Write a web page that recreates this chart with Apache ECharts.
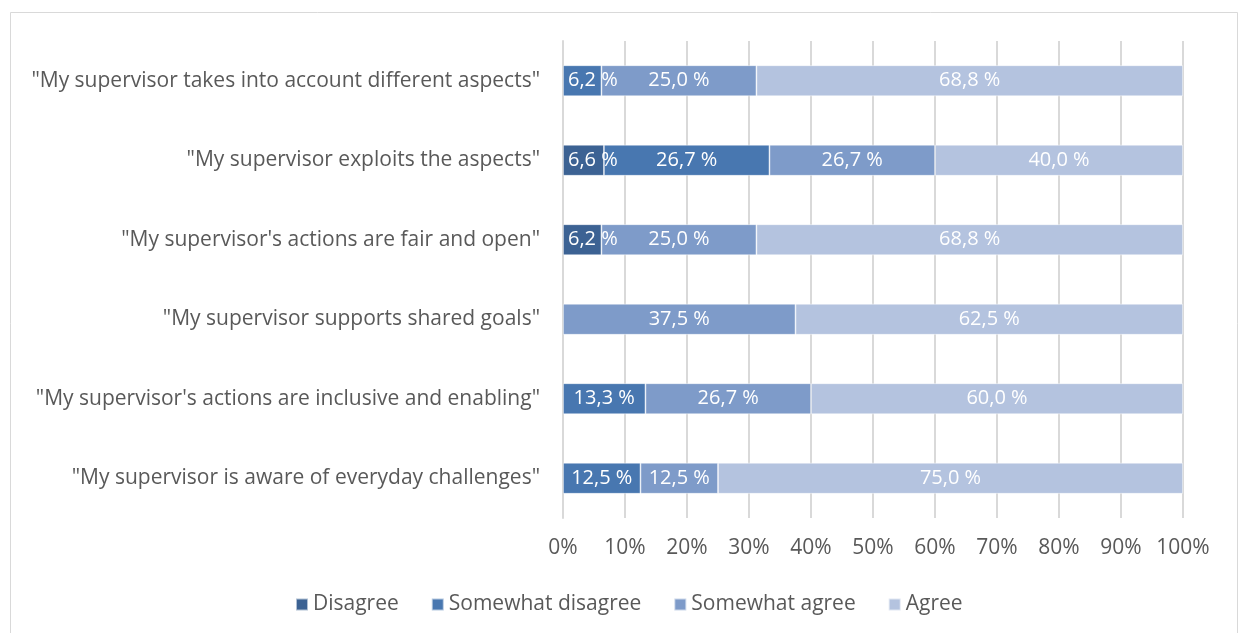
<!DOCTYPE html>
<html>
<head>
<meta charset="utf-8">
<script src="https://cdn.jsdelivr.net/npm/echarts@6/dist/echarts.min.js"></script>
<style>
  html, body { margin: 0; padding: 0; background: #fff; }
  #chart { width: 1239px; height: 633px; }
</style>
</head>
<body>
<div id="chart"></div>
<script>
// Survey statements, listed top to bottom
const categories = [
  '"My supervisor takes into account different aspects"',
  '"My supervisor exploits the aspects"',
  '"My supervisor\'s actions are fair and open"',
  '"My supervisor supports shared goals"',
  '"My supervisor\'s actions are inclusive and enabling"',
  '"My supervisor is aware of everyday challenges"'
];

// Share of answers per statement (%), null where nobody chose the option
const disagree         = [null, 6.6, 6.2, null, null, null];
const somewhatDisagree = [6.2, 26.7, null, null, 13.3, 12.5];
const somewhatAgree    = [25.0, 26.7, 25.0, 37.5, 26.7, 12.5];
const agree            = [68.8, 40.0, 68.8, 62.5, 60.0, 75.0];

const xTicks = [0, 10, 20, 30, 40, 50, 60, 70, 80, 90, 100];

const FONT = '"Open Sans", "Liberation Sans", sans-serif';
const TEXT = '#595959';
const SIZE = 21;

// Segments too narrow for their label keep the text starting just inside the plot
function item(v, firstInStack) {
  if (v == null) return null;
  if (firstInStack && v < 10) {
    return { value: v, label: { position: 'insideLeft', distance: 5 } };
  }
  return v;
}

function seg(name, data, color, z) {
  return {
    name: name,
    type: 'bar',
    stack: 'total',
    data: data,
    barWidth: '39%',
    z: z,
    itemStyle: { color: color, borderColor: 'rgba(255,255,255,0.6)', borderWidth: 0.8 },
    label: {
      show: true,
      position: 'inside',
      color: '#fff',
      fontFamily: FONT,
      fontSize: 20,
      formatter: p => p.value.toFixed(1).replace('.', ',') + ' %'
    },
    emphasis: { disabled: true }
  };
}

const chart = echarts.init(document.getElementById('chart'), null, { renderer: 'canvas' });
chart.setOption({
  animation: false,
  backgroundColor: '#fff',
  textStyle: { fontFamily: FONT },
  graphic: [{
    type: 'rect',
    shape: { x: 10.5, y: 12.5, width: 1227, height: 640 },
    style: { fill: 'none', stroke: '#D9D9D9', lineWidth: 1 },
    silent: true
  }],
  grid: { left: 563, right: 56, top: 41, bottom: 115, containLabel: false },
  legend: {
    top: 589,
    left: 290,
    itemWidth: 12,
    itemHeight: 12,
    itemGap: 32,
    icon: 'rect',
    textStyle: { color: TEXT, fontSize: SIZE, fontFamily: FONT },
    data: ['Disagree', 'Somewhat disagree', 'Somewhat agree', 'Agree']
  },
  xAxis: {
    type: 'value',
    min: xTicks[0],
    max: xTicks[xTicks.length - 1],
    interval: xTicks[1] - xTicks[0],
    axisLabel: { formatter: '{value}%', color: TEXT, fontSize: SIZE, fontFamily: FONT, margin: 20 },
    axisLine: { show: false },
    axisTick: { show: false },
    splitLine: { lineStyle: { color: '#D9D9D9', width: 2 } }
  },
  yAxis: {
    type: 'category',
    inverse: true,
    data: categories,
    axisLabel: { color: TEXT, fontSize: SIZE, fontFamily: FONT, margin: 23 },
    axisLine: { show: true, lineStyle: { color: '#D9D9D9', width: 2 } },
    axisTick: { show: false }
  },
  // earlier segments sit above later ones so overflowing labels stay readable
  series: [
    seg('Disagree', disagree.map(v => item(v, true)), '#3C6293', 6),
    seg('Somewhat disagree', somewhatDisagree.map((v, i) => item(v, disagree[i] == null)), '#4877B0', 5),
    seg('Somewhat agree', somewhatAgree, '#7E9BC9', 4),
    seg('Agree', agree, '#B4C3DF', 3)
  ]
});
</script>
</body>
</html>
